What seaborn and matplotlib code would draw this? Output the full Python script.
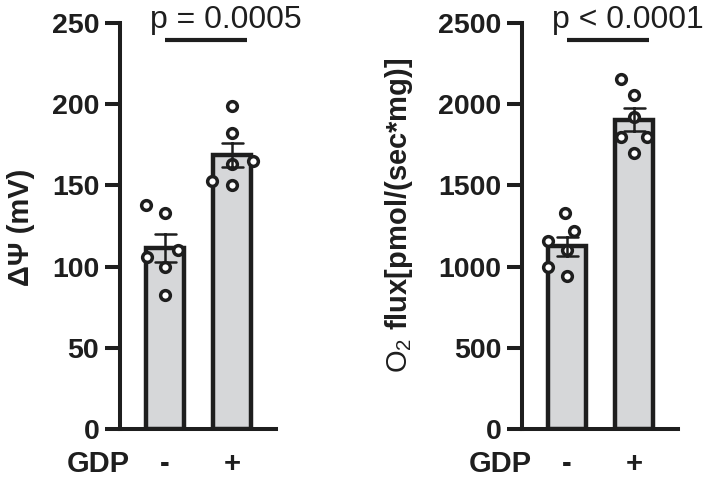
import numpy as np
import pandas as pd
import matplotlib
matplotlib.use("Agg")
import matplotlib.pyplot as plt
import seaborn as sns

# === Dados ===
groups = ["-", "+"]
dpsi_minus = [138, 133, 110, 106, 100, 82.5]
dpsi_plus = [199, 182, 165, 163, 153, 150]
o2_minus = [1330, 1219, 1158, 1102, 998, 942]
o2_plus = [2155, 2057, 1921, 1798, 1798, 1700]
p_texts = ["p = 0.0005", "p < 0.0001"]
y_labels = ["ΔΨ (mV)", r"$\mathrm{O_2}$ flux[pmol/(sec*mg)]"]
y_ticks = [[0, 50, 100, 150, 200, 250], [0, 500, 1000, 1500, 2000, 2500]]

ink = "#1e1e1e"
fill = "#d6d7d9"

sns.set_style("ticks")
plt.rcParams["font.family"] = ["Liberation Sans", "DejaVu Sans"]
plt.rcParams["mathtext.fontset"] = "custom"
plt.rcParams["mathtext.rm"] = "Liberation Sans"

fig = plt.figure(figsize=(7.09, 4.90), dpi=100)
axes = [fig.add_axes([0.1693, 0.1245, 0.220, 0.8286]),
        fig.add_axes([0.7363, 0.1245, 0.220, 0.8286])]

panels = [(dpsi_minus, dpsi_plus), (o2_minus, o2_plus)]
label_x = [-0.548, -0.688]
label_y = [0.496, 0.527]

for i, ax in enumerate(axes):
    minus, plus = panels[i]
    df = pd.DataFrame({"GDP": ["-"] * len(minus) + ["+"] * len(plus),
                       "value": minus + plus})

    sns.barplot(data=df, x="GDP", y="value", order=groups, errorbar="se",
                capsize=0.31, width=0.57, color=fill, saturation=1,
                edgecolor=ink, linewidth=3.2,
                err_kws={"color": ink, "linewidth": 1.8, "zorder": 5}, ax=ax)
    # swarm com marcador maior só para espalhar mais os pontos (estilo Prism)
    sns.swarmplot(data=df, x="GDP", y="value", order=groups, size=12,
                  color="white", edgecolor=ink, linewidth=2.5, ax=ax, zorder=4)

    ax.set_xlim(-0.67, 1.65)
    ax.set_ylim(0, y_ticks[i][-1])
    ax.set_yticks(y_ticks[i])
    sns.despine(ax=ax)
    for s in ["left", "bottom"]:
        ax.spines[s].set_linewidth(2.9)
        ax.spines[s].set_color(ink)
    ax.tick_params(axis="y", length=11, width=2.9, color=ink, pad=4,
                   labelsize=20.5, labelcolor=ink)
    ax.tick_params(axis="x", length=0, pad=15, labelsize=21, labelcolor=ink)
    for t in ax.get_yticklabels() + ax.get_xticklabels():
        t.set_fontweight("bold")

    ax.set_xlabel("")
    ax.set_ylabel(y_labels[i], fontsize=21, fontweight="bold", color=ink)
    ax.yaxis.set_label_coords(label_x[i], label_y[i])

    ax.annotate("GDP", xy=(-0.52, 0), xycoords=("data", "axes fraction"),
                xytext=(0, -15), textcoords="offset points", ha="right",
                va="top", fontsize=21, fontweight="bold", color=ink)

    # linha de significância
    ax.plot([0, 1.22], [0.957, 0.957], transform=ax.get_xaxis_transform(),
            color=ink, linewidth=3, clip_on=False, solid_capstyle="butt")
    ax.text(0.91, 0.988, p_texts[i], transform=ax.get_xaxis_transform(),
            ha="center", va="baseline", fontsize=23, color=ink)

# calcula as posições do swarm uma vez, congela e reduz os marcadores
fig.canvas.draw()
for ax in axes:
    for coll in ax.collections:
        if "draw" in coll.__dict__:
            del coll.draw
            coll.set_sizes([7 ** 2])

fig.savefig("out.png", dpi=100)
